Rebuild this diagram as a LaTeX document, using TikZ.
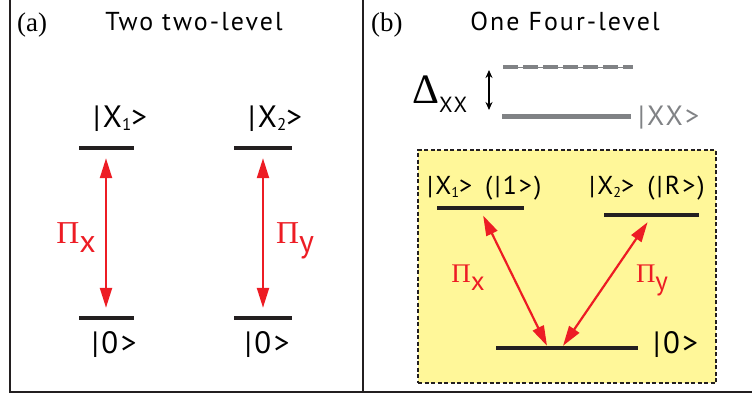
\documentclass[tikz,border=0pt]{standalone}
\usepackage{fontspec}
\usepackage{graphicx}
\setmainfont{PT Sans}[LetterSpace=8]
\newfontfamily\serifface{Liberation Serif}
\usepackage{tikz}
\usetikzlibrary{arrows.meta,positioning}
\definecolor{pired}{HTML}{ED1C24}
\definecolor{boxyellow}{HTML}{FFF799}
\definecolor{levgray}{HTML}{808285}
\definecolor{inkblack}{HTML}{231F20}
\newcommand{\lsub}[1]{\raisebox{-0.12em}{\scalebox{0.55}{#1}}}
\newcommand{\pol}[1]{{\serifface Π}\raisebox{-0.3em}{#1}}

\begin{document}
\begin{tikzpicture}[x=1bp,y=-1bp,
  lev/.style={fill=inkblack,inner sep=0pt,minimum height=4bp},
  xxlev/.style={fill=levgray,inner sep=0pt,minimum height=5bp},
  lbl/.style={inner sep=0pt,anchor=base,font=\fontsize{31}{31}\selectfont},
  small/.style={lbl,font=\fontsize{26}{26}\selectfont},
  title/.style={inner sep=0pt,anchor=base,font=\fontsize{26}{26}\selectfont},
  tag/.style={inner sep=0pt,anchor=base west,font=\fontsize{27}{27}\selectfont\serifface},
  pilbl/.style={lbl,text=pired,font=\fontsize{32}{32}\selectfont},
  pismall/.style={lbl,text=pired,font=\fontsize{27}{27}\selectfont},
  ybox/.style={fill=boxyellow,draw=inkblack,line width=2bp,dash pattern=on 4bp off 2.5bp,
    minimum width=298bp,minimum height=233bp,inner sep=0pt},
  arr/.style={{Triangle[length=20bp,width=12bp]}-{Triangle[length=20bp,width=12bp]},
    line width=2.2bp,draw=pired},
  darr/.style={{Stealth[length=8bp,width=7bp]}-{Stealth[length=8bp,width=7bp]},line width=1.5bp},
  frame/.style={draw=inkblack,line width=2bp}
]
\useasboundingbox (0,0) rectangle (752,396);
\draw[frame] (10,0) -- (10,392) -- (752,392);
\draw[frame] (363,0) -- (363,392);

\node[tag] (taga) at (17,31) {(a)};
\node[title] (titlea) at (194,30) {Two two-level};
\node[tag] (tagb) at (371,31) {(b)};
\node[title] (titleb) at (565,30) {One Four-level};

\node[lev,minimum width=55bp] (ex1) at (106,148) {};
\node[lev,minimum width=58bp] (ex2) at (263,148) {};
\node[lev,minimum width=55bp] (gr1) at (106,318) {};
\node[lev,minimum width=58bp] (gr2) at (263,318) {};
\node[lbl] (lx1) at (120,127) {|X\lsub{1}>};
\node[lbl] (lx2) at (275,127) {|X\lsub{2}>};
\node[lbl] (lg1) at (114,353) {|0>};
\node[lbl] (lg2) at (267,353) {|0>};
\node[pilbl] (pix) at (76,243) {\pol{x}};
\node[pilbl] (piy) at (295,243) {\pol{y}};
\draw[arr,shorten <=8bp,shorten >=8bp] (ex1.south) -- (gr1.north);
\draw[arr,shorten <=8bp,shorten >=8bp] (ex2.south) -- (gr2.north);

\draw[levgray,line width=1bp] (503,67) -- (633,67);
\draw[levgray,line width=4bp,dash pattern=on 15bp off 5bp] (503,67) -- (633,67);
\node[xxlev,minimum width=129bp] (xx) at (566.5,116) {};
\node[lbl,anchor=base west,text=levgray,font=\fontsize{28}{28}\selectfont] (lxx) at (638,125) {|XX>};
\node[inner sep=0pt,anchor=base west] (dxx) at (412,103)
  {{\fontsize{42}{42}\selectfont\serifface Δ}\raisebox{-9bp}{\fontsize{22}{22}\selectfont XX}};
\coordinate (dtop) at (489,70);
\coordinate (dbot) at (489,110);
\draw[darr] (dtop) -- (dbot);

\node[ybox] (box) at (567,266.5) {};
\node[lev,minimum width=87bp] (ex1b) at (480.5,208) {};
\node[lev,minimum width=95bp] (ex2b) at (651,215) {};
\node[lev,minimum width=142bp] (grb) at (567,348) {};
\node[small,anchor=base west] (lx1b) at (427,194) {|X\lsub{1}>\hspace{0.5em}(|1>)};
\node[small,anchor=base west] (lx2b) at (589,194) {|X\lsub{2}>\hspace{0.5em}(|R>)};
\node[lbl,anchor=base west] (lgb) at (653,353) {|0>};
\node[pismall] (pixb) at (468,282) {\pol{x}};
\node[pismall] (piyb) at (652,282) {\pol{y}};
\draw[arr,shorten <=6bp] (ex1b.south) -- ([xshift=-20bp]grb.north);
\draw[arr,shorten <=6bp] (ex2b.south) -- ([xshift=-4bp]grb.north);
\end{tikzpicture}
\end{document}
